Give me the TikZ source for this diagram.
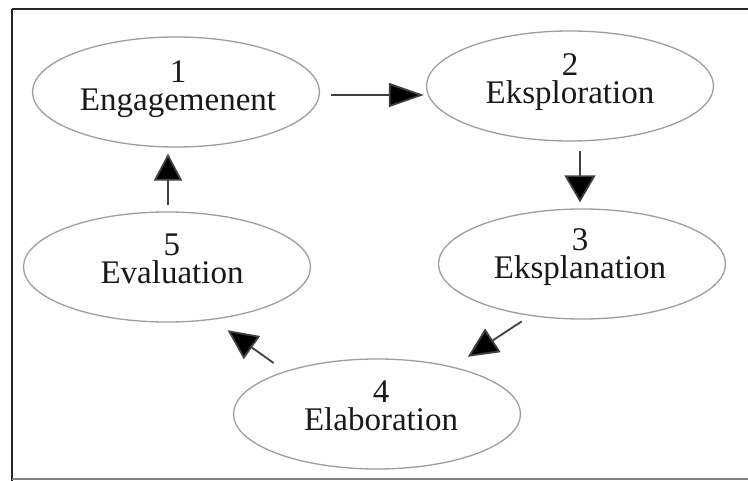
\documentclass[tikz,border=0pt]{standalone}
\usepackage{fontspec}
\setmainfont{Liberation Serif}
\usetikzlibrary{shapes.geometric,arrows.meta}
\tikzset{
  stage/.style={ellipse, draw=black!38, line width=1.3pt, minimum width=287pt, minimum height=110pt, inner sep=0pt},
  stagetext/.style={inner sep=0pt, align=center, font=\fontsize{33}{28}\selectfont, text=black!90},
  arr/.style={draw=black!75, line width=1.8pt, -{Triangle[length=30pt,width=28pt,fill=black]}},
  frame/.style={line width=2.6pt, draw=black!85}
}
\begin{document}
\begin{tikzpicture}[x=1pt,y=1pt]
\useasboundingbox (0,0) rectangle (748,-481);
\fill[white] (0,0) rectangle (748,-481);
% frame
\draw[frame] (12,-9) -- (748,-9);
\draw[frame] (12,-9) -- (12,-481);
\draw[line width=2pt, draw=black!50] (12,-479) -- (748,-479);
% stages
\node[stage] (e1) at (176,-92) {};
\node[stage] (e2) at (570,-86) {};
\node[stage] (e3) at (582,-264) {};
\node[stage] (e4) at (377,-414) {};
\node[stage] (e5) at (167,-267) {};
\node[stagetext] (t1) at ([xshift=2pt,yshift=3pt]e1) {1\\Engagemenent};
\node[stagetext] (t2) at ([yshift=4pt]e2) {2\\Eksploration};
\node[stagetext] (t3) at ([xshift=-2pt,yshift=7pt]e3) {3\\Eksplanation};
\node[stagetext] (t4) at ([xshift=4pt,yshift=8pt]e4) {4\\Elaboration};
\node[stagetext] (t5) at ([xshift=5pt,yshift=8pt]e5) {5\\Evaluation};
% connectors
\draw[arr, -{Triangle[length=35pt,width=24pt,fill=black]}, shorten <=11pt, shorten >=2pt] ([yshift=-3pt]e1.east) -- ([yshift=-9pt]e2.west);
\draw[arr, -{Triangle[length=27pt,width=31pt,fill=black]}, shorten <=9pt, shorten >=6pt] ([xshift=10pt]e2.south) -- ([xshift=-2pt]e3.north);
\draw[arr, shorten <=10pt, shorten >=18pt] (e3.225) -- (e4.32);
\draw[arr, shorten <=14pt, shorten >=18pt] (e4.155) -- (e5.-49);
\draw[arr, -{Triangle[length=27pt,width=28pt,fill=black]}, shorten <=6pt, shorten >=6pt] ([xshift=1pt]e5.north) -- ([xshift=-8pt]e1.south);
\end{tikzpicture}
\end{document}
